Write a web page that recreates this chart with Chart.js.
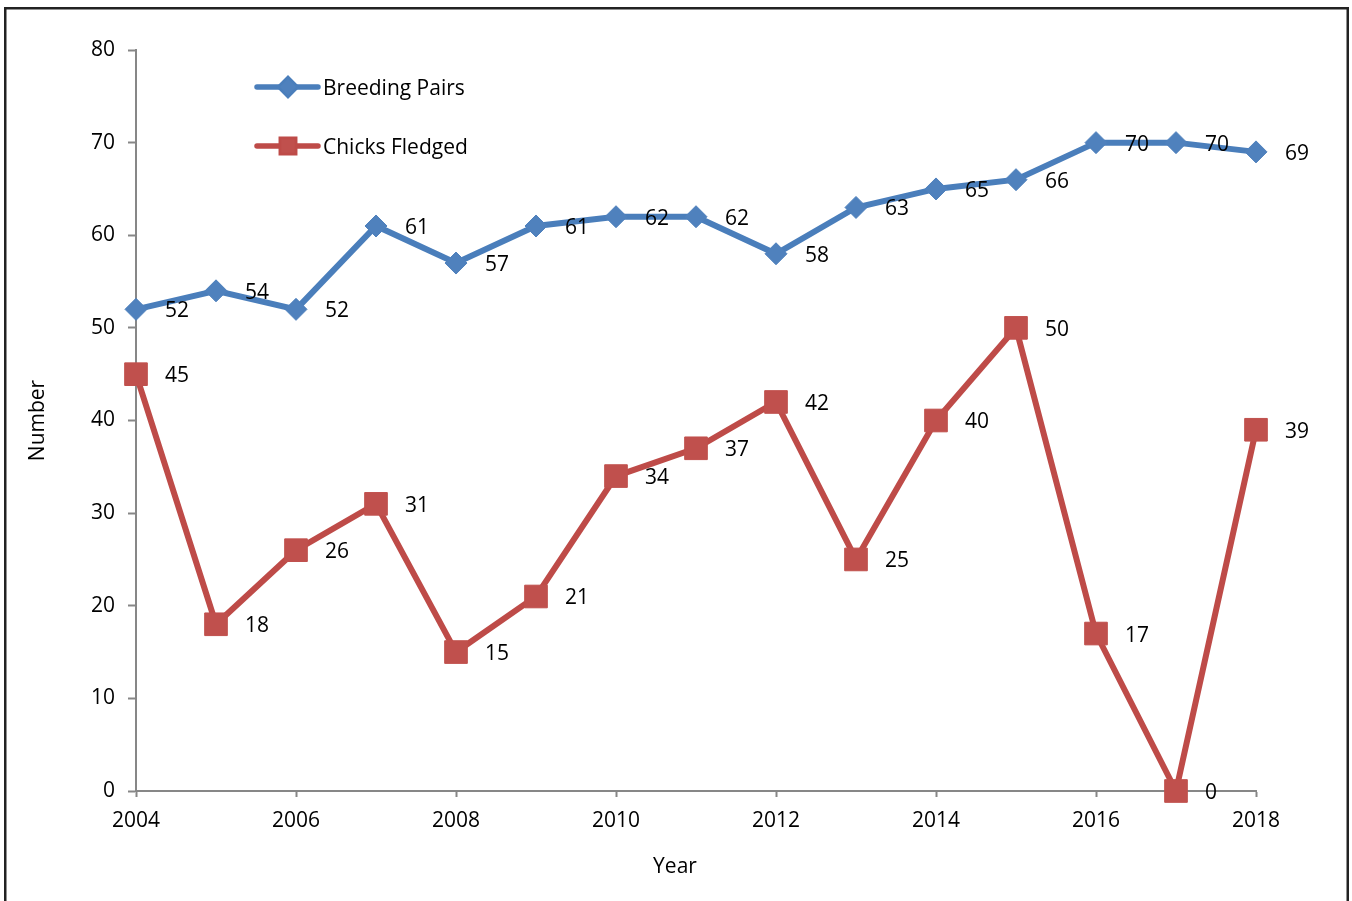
<!DOCTYPE html>
<html>
<head>
<meta charset="utf-8">
<title>Breeding Pairs and Chicks Fledged</title>
<script src="https://cdn.jsdelivr.net/npm/chart.js"></script>
<style>
  html, body { margin: 0; padding: 0; background: #fff; overflow: hidden; }
  canvas { display: block; }
</style>
</head>
<body>
<canvas id="chart" width="1352" height="901"></canvas>
<script>
// ----------------------------------------------------------------------
const years = [2004,2005,2006,2007,2008,2009,2010,2011,2012,2013,2014,2015,2016,2017,2018]
const breedingPairs = [52,54,52,61,57,61,62,62,58,63,65,66,70,70,69]
const chicksFledged = [45,18,26,31,15,21,34,37,42,25,40,50,17,0,39]

const FONT = { family: "'Open Sans', 'Noto Sans', sans-serif", size: 21 }
const AXIS_GREY = '#878787'

// frame round the whole figure
const framePlugin = {
    id: 'frame',
    beforeDraw(chart) {
        const ctx = chart.ctx
        ctx.save()
        ctx.fillStyle = '#fff'
        ctx.fillRect(0, 0, chart.width, chart.height)
        ctx.strokeStyle = '#222'
        ctx.lineWidth = 2.5
        ctx.strokeRect(5.25, 8.25, chart.width - 9.5, chart.height + 20)
        ctx.restore()
    }
}

// value written to the right of every point
const valueLabels = {
    id: 'valueLabels',
    afterDatasetsDraw(chart) {
        const ctx = chart.ctx
        ctx.save()
        ctx.font = FONT.size + 'px ' + FONT.family
        ctx.fillStyle = '#000'
        ctx.textAlign = 'left'
        ctx.textBaseline = 'middle'
        chart.data.datasets.forEach((ds, i) => {
            chart.getDatasetMeta(i).data.forEach((pt, j) => {
                ctx.fillText(String(ds.data[j].y), pt.x + 29, pt.y + 2)
            })
        })
        ctx.restore()
    }
}

// legend sitting inside the plot, top left, plus the x title a bit left of centre
const insideLegend = {
    id: 'insideLegend',
    afterDraw(chart) {
        const ctx = chart.ctx
        const area = chart.chartArea
        const x0 = area.left + 121
        const rows = [area.top + 37, area.top + 96]
        ctx.save()
        chart.data.datasets.forEach((ds, i) => {
            const y = rows[i]
            ctx.strokeStyle = ds.borderColor
            ctx.lineWidth = 5.5
            ctx.lineCap = 'round'
            ctx.beginPath()
            ctx.moveTo(x0, y)
            ctx.lineTo(x0 + 61, y)
            ctx.stroke()
            Chart.helpers.drawPoint(ctx, {
                pointStyle: ds.pointStyle,
                radius: ds.pointStyle === 'rect' ? 9.5 : 8,
                borderWidth: 1
            }, x0 + 31, y)
            ctx.fillStyle = ds.pointBackgroundColor
            ctx.strokeStyle = ds.pointBorderColor
            ctx.lineWidth = 1
            ctx.fill()
            ctx.fillStyle = '#000'
            ctx.font = FONT.size + 'px ' + FONT.family
            ctx.textAlign = 'left'
            ctx.textBaseline = 'middle'
            ctx.fillText(ds.label, x0 + 66, y + 2)
        })
        ctx.font = FONT.size + 'px ' + FONT.family
        ctx.fillStyle = '#000'
        ctx.textAlign = 'center'
        ctx.textBaseline = 'middle'
        ctx.fillText('Year', (area.left + area.right) / 2 - 21, chart.height - 34)
        ctx.restore()
    }
}

const chartData = {
    datasets: [
        {
        label: 'Breeding Pairs',
        data: years.map((yr, i) => ({ x: yr, y: breedingPairs[i] })),
        borderColor: '#4A7EBB',
        borderWidth: 6,
        pointStyle: 'rectRot',
        pointRadius: 11,
        pointBackgroundColor: '#4F81BD',
        pointBorderColor: '#4F81BD',
        pointBorderWidth: 1,
        tension: 0,
        clip: false
        },
        {
        label: 'Chicks Fledged',
        data: years.map((yr, i) => ({ x: yr, y: chicksFledged[i] })),
        borderColor: '#BE4B48',
        borderWidth: 6,
        pointStyle: 'rect',
        pointRadius: 16,
        pointBackgroundColor: '#C0504D',
        pointBorderColor: '#C0504D',
        pointBorderWidth: 1,
        tension: 0,
        clip: false
        }
    ]
}

const config = {
    type: 'line',
    data: chartData,
    plugins: [framePlugin, valueLabels, insideLegend],
    options: {
        responsive: false,
        animation: false,
        layout: { padding: { top: 50, right: 96, bottom: 0, left: 0 } },
        plugins: {
            legend: { display: false },
            tooltip: { enabled: false }
        },
        scales: {
            x: {
                type: 'linear',
                min: 2004,
                max: 2018,
                afterFit: s => { s.height = 110 },
                ticks: {
                    stepSize: 2,
                    padding: 11,
                    color: '#000',
                    font: FONT,
                    maxRotation: 0,
                    callback: v => String(v)
                },
                grid: { drawOnChartArea: false, tickLength: 6, tickWidth: 2, color: AXIS_GREY },
                border: { color: AXIS_GREY, width: 2 }
            },
            y: {
                min: 0,
                max: 80,
                afterFit: s => { s.width = 136 },
                ticks: { stepSize: 10, padding: 13, color: '#000', font: FONT },
                grid: { drawOnChartArea: false, tickLength: 8, tickWidth: 2, color: AXIS_GREY },
                border: { color: AXIS_GREY, width: 2 },
                title: { display: true, text: 'Number', color: '#000', font: FONT, padding: { top: 25, bottom: 0 } }
            }
        }
    }
}

const chart = new Chart(document.getElementById('chart'), config)
</script>
</body>
</html>
